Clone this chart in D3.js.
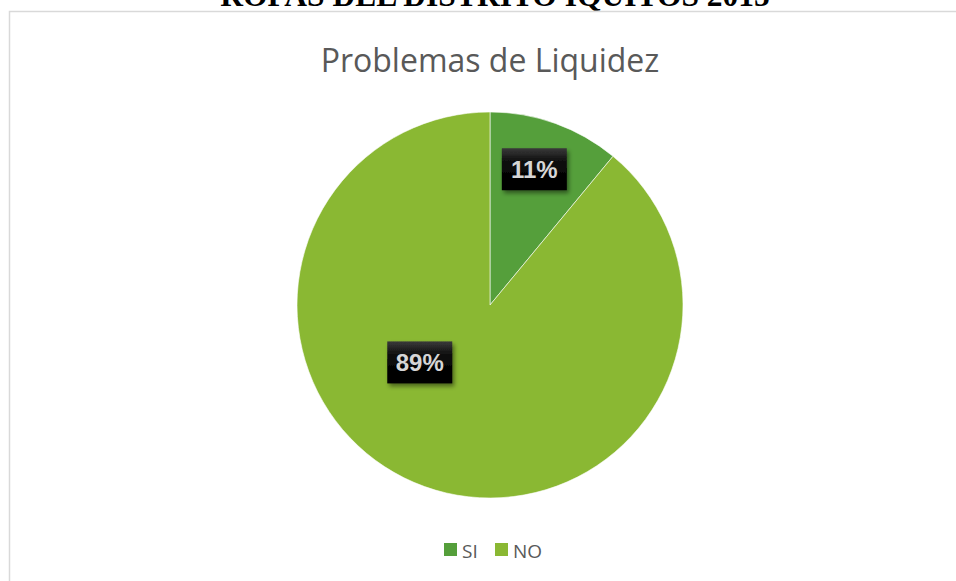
<!DOCTYPE html>
<html>
<head>
<meta charset="utf-8">
<script src="https://cdn.jsdelivr.net/npm/d3@7"></script>
<style>
  body { margin: 0; background: #fff; }
  svg { display: block; }
</style>
</head>
<body>
<svg width="956" height="581"></svg>
<script>
// chart data
const categories = ["SI", "NO"];
const values = [11, 89];
const labels = ["11%", "89%"];
const colors = ["#559f3b", "#8ab833"];

const svg = d3.select("svg");
const width = 956;
const height = 581;

// shadow + fill for the data label boxes
const defs = svg.append("defs");
const f = defs.append("filter").attr("id", "shadow")
    .attr("x", "-20%").attr("y", "-20%").attr("width", "150%").attr("height", "160%");
f.append("feDropShadow")
    .attr("dx", 2).attr("dy", 3).attr("stdDeviation", 2)
    .attr("flood-color", "#000").attr("flood-opacity", 0.45);

const grad = defs.append("linearGradient").attr("id", "boxfill")
    .attr("x1", 0).attr("y1", 0).attr("x2", 0).attr("y2", 1);
grad.append("stop").attr("offset", "0%").attr("stop-color", "#3a3a3a");
grad.append("stop").attr("offset", "35%").attr("stop-color", "#0a0a0a");
grad.append("stop").attr("offset", "100%").attr("stop-color", "#000");

// heading of the page above the chart (only its lower part shows)
svg.append("text")
    .attr("x", 495)
    .attr("y", 6)
    .attr("text-anchor", "middle")
    .attr("font-family", "Liberation Serif, Times New Roman, serif")
    .attr("font-weight", "bold")
    .attr("font-size", "31.5px")
    .attr("fill", "#000")
    .text("ROPAS DEL DISTRITO IQUITOS 2015");

// chart area border
svg.append("rect")
    .attr("x", 9.5)
    .attr("y", 11.5)
    .attr("width", 960)
    .attr("height", 600)
    .attr("fill", "none")
    .attr("stroke", "#d9d9d9")
    .attr("stroke-width", 1.5);

// title
svg.append("text")
    .attr("x", 490)
    .attr("y", 72)
    .attr("text-anchor", "middle")
    .attr("font-family", "Open Sans, sans-serif")
    .attr("font-size", "32px")
    .attr("fill", "#595959")
    .text("Problemas de Liquidez");

// pie
const cx = 490, cy = 305, r = 193;
const data = categories.map((c, i) => ({ cat: c, value: values[i], label: labels[i], color: colors[i] }));

const pie = d3.pie().value(d => d.value).sort(null);
const arc = d3.arc().innerRadius(0).outerRadius(r);
const arcs = pie(data);

const g = svg.append("g").attr("transform", `translate(${cx},${cy})`);

g.selectAll("path")
    .data(arcs)
    .enter()
    .append("path")
        .attr("d", arc)
        .attr("fill", d => d.data.color)
        .attr("stroke", "#fff")
        .attr("stroke-width", 0.6);

// data labels: the small slice gets its label on the mid angle,
// the big one is pulled in toward the lower left like Excel's best fit
function labelPos(d) {
    const mid = (d.startAngle + d.endAngle) / 2;
    if (d.endAngle - d.startAngle < Math.PI) {
        return d3.pointRadial(mid - 0.03, r * 0.74);
    }
    return d3.pointRadial(mid + 0.54, r * 0.47);
}

const boxW = 65, boxH = 42;

const lab = g.selectAll("g.lab")
    .data(arcs)
    .enter()
    .append("g")
        .attr("class", "lab")
        .attr("transform", d => {
            const [x, y] = labelPos(d);
            return `translate(${x},${y})`;
        });

lab.append("rect")
    .attr("x", -boxW / 2)
    .attr("y", -boxH / 2)
    .attr("width", boxW)
    .attr("height", boxH)
    .attr("fill", "url(#boxfill)")
    .attr("filter", "url(#shadow)");

lab.append("text")
    .attr("text-anchor", "middle")
    .attr("dy", "0.36em")
    .attr("font-family", "Liberation Sans, Arial, sans-serif")
    .attr("font-weight", "bold")
    .attr("font-size", "24px")
    .attr("fill", "#d6d6d6")
    .text(d => d.data.label);

// legend
const legend = svg.append("g").attr("transform", "translate(444,543)");
const legX = [0, 51];

const item = legend.selectAll("g")
    .data(data)
    .enter()
    .append("g")
        .attr("transform", (d, i) => `translate(${legX[i]},0)`);

item.append("rect")
    .attr("width", 13)
    .attr("height", 13)
    .attr("fill", d => d.color);

item.append("text")
    .attr("x", 18)
    .attr("y", 15)
    .attr("font-family", "Open Sans, sans-serif")
    .attr("font-size", "19px")
    .attr("fill", "#595959")
    .text(d => d.cat);
</script>
</body>
</html>
